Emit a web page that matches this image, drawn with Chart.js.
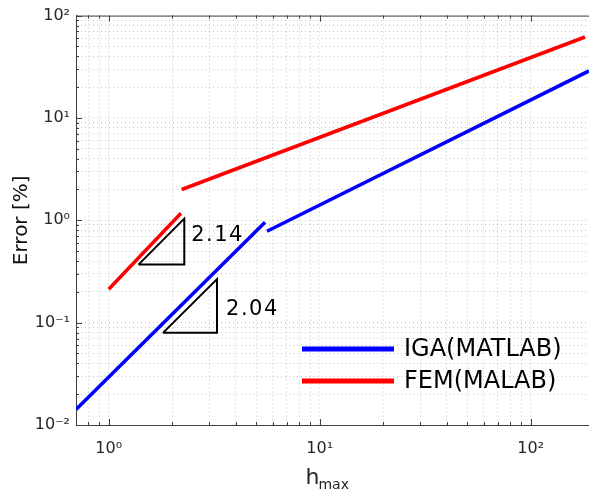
<!DOCTYPE html>
<html>
<head>
<meta charset="utf-8">
<script src="https://cdn.jsdelivr.net/npm/chart.js@4.4.0/dist/chart.umd.min.js"></script>
<style>
    html, body { margin: 0; padding: 0; background: #fff; }
    #wrap { position: relative; width: 589px; height: 492px; }
</style>
</head>
<body>
<div id="wrap"><canvas id="errorChart"></canvas></div>
<script>
// IGA (MATLAB) - two straight pieces on log-log
const igaH1 = [0.70, 5.51];
const igaErr1 = [0.0142, 0.956];
const igaH2 = [5.63, 189];
const igaErr2 = [0.781, 28.8];

// FEM (MALAB)
const femH1 = [1.0, 2.20];
const femErr1 = [0.212, 1.17];
const femH2 = [2.22, 181];
const femErr2 = [2.00, 61.8];

// slope triangles (closed paths)
const tri1H = [1.384, 2.282, 2.282, 1.384];
const tri1Err = [0.369, 0.369, 1.039, 0.369];
const tri2H = [1.808, 3.262, 3.262, 1.808];
const tri2Err = [0.0795, 0.0795, 0.2666, 0.0795];

const slopeLabels = ['2.14', '2.04'];
const slopeLabelH = [2.46, 3.60];
const slopeLabelErr = [0.714, 0.133];

const legendLabels = ['IGA(MATLAB)', 'FEM(MALAB)'];
const legendColors = ['#0000ff', '#ff0000'];

const xMin = 0.70, xMax = 189;
const yMin = 0.01, yMax = 100;

const FONT = "'DejaVu Sans', Verdana, sans-serif";

function toPoints(xs, ys) {
    return xs.map((x, i) => ({ x: x, y: ys[i] }));
}

function isPow10(v) {
    const l = Math.log10(v);
    return Math.abs(l - Math.round(l)) < 1e-9;
}

const supMap = { '-': '\u207B', '0': '\u2070', '1': '\u00B9', '2': '\u00B2', '3': '\u00B3' };
function powLabel(v) {
    const e = String(Math.round(Math.log10(v)));
    return '10' + e.split('').map(c => supMap[c] || c).join('');
}

// MATLAB style minor ticks: 1..9 x 10^k inside the range
function decadeTicks(min, max) {
    const out = [];
    for (let e = Math.floor(Math.log10(min)); e <= Math.ceil(Math.log10(max)); e++) {
        for (let d = 1; d <= 9; d++) {
            const v = parseFloat((d * Math.pow(10, e)).toPrecision(6));
            if (v >= min - 1e-12 && v <= max + 1e-12) out.push({ value: v, major: d === 1 });
        }
    }
    return out;
}

// inner tick marks, top border, slope labels, legend and x title
const decorPlugin = {
    id: 'decor',
    afterDatasetsDraw(chart) {
        const ctx = chart.ctx;
        const area = chart.chartArea;
        const xs = chart.scales.x;
        const ys = chart.scales.y;

        ctx.save();
        ctx.strokeStyle = '#404040';
        ctx.lineWidth = 1;
        ctx.beginPath();
        ctx.moveTo(area.left, area.top + 0.5);
        ctx.lineTo(area.right, area.top + 0.5);
        xs.ticks.forEach(t => {
            const px = Math.round(xs.getPixelForValue(t.value)) + 0.5;
            const len = isPow10(t.value) ? 6 : 3;
            ctx.moveTo(px, area.bottom);
            ctx.lineTo(px, area.bottom - len);
            ctx.moveTo(px, area.top);
            ctx.lineTo(px, area.top + len);
        });
        ys.ticks.forEach(t => {
            const py = Math.round(ys.getPixelForValue(t.value)) + 0.5;
            const len = isPow10(t.value) ? 6 : 3;
            ctx.moveTo(area.left, py);
            ctx.lineTo(area.left + len, py);
        });
        ctx.stroke();

        // slope values
        ctx.fillStyle = '#000';
        ctx.font = '21px ' + FONT;
        ctx.textBaseline = 'middle';
        ctx.textAlign = 'left';
        if ('letterSpacing' in ctx) ctx.letterSpacing = '1.5px';
        slopeLabels.forEach((s, i) => {
            ctx.fillText(s, xs.getPixelForValue(slopeLabelH[i]), ys.getPixelForValue(slopeLabelErr[i]));
        });
        if ('letterSpacing' in ctx) ctx.letterSpacing = '0px';

        // legend in the lower right of the axes
        ctx.font = '24px ' + FONT;
        legendLabels.forEach((lab, i) => {
            const y = area.bottom - 76 + i * 32;
            ctx.strokeStyle = legendColors[i];
            ctx.lineWidth = 5;
            ctx.beginPath();
            ctx.moveTo(area.right - 287, y);
            ctx.lineTo(area.right - 195, y);
            ctx.stroke();
            ctx.fillStyle = '#000';
            ctx.fillText(lab, area.right - 185, y + 1);
        });

        // x title with subscript
        const cx = (area.left + area.right) / 2 - 27;
        ctx.fillStyle = '#262626';
        ctx.textBaseline = 'alphabetic';
        ctx.font = '22px ' + FONT;
        ctx.fillText('h', cx, 484);
        const hw = ctx.measureText('h').width;
        ctx.font = '14px ' + FONT;
        ctx.fillText('max', cx + hw - 1, 489);
        ctx.restore();
    }
};

const lineStyle = { showLine: true, pointRadius: 0, borderWidth: 3.5, tension: 0, fill: false };

new Chart(document.getElementById('errorChart'), {
    type: 'scatter',
    data: {
        datasets: [
            { ...lineStyle, data: toPoints(igaH1, igaErr1), borderColor: '#0000ff' },
            { ...lineStyle, data: toPoints(igaH2, igaErr2), borderColor: '#0000ff' },
            { ...lineStyle, data: toPoints(femH1, femErr1), borderColor: '#ff0000' },
            { ...lineStyle, data: toPoints(femH2, femErr2), borderColor: '#ff0000' },
            { ...lineStyle, data: toPoints(tri1H, tri1Err), borderColor: '#000', borderWidth: 2 },
            { ...lineStyle, data: toPoints(tri2H, tri2Err), borderColor: '#000', borderWidth: 2 }
        ]
    },
    options: {
        responsive: true,
        maintainAspectRatio: false,
        animation: false,
        layout: { padding: { top: 14, right: 0, left: 0, bottom: 0 } },
        plugins: {
            legend: { display: false },
            tooltip: { enabled: false }
        },
        scales: {
            x: {
                type: 'logarithmic',
                min: xMin,
                max: xMax,
                afterBuildTicks: (scale) => { scale.ticks = decadeTicks(xMin, xMax); },
                afterFit: (scale) => { scale.height = 67; },
                ticks: {
                    autoSkip: false,
                    maxRotation: 0,
                    padding: 14,
                    color: '#262626',
                    font: { family: FONT, size: 16 },
                    callback: (value) => isPow10(value) ? powLabel(value) : ''
                },
                grid: { color: 'rgba(0,0,0,0.22)', drawTicks: false, lineWidth: 1 },
                border: { display: true, color: '#404040', width: 1, dash: [1, 3] }
            },
            y: {
                type: 'logarithmic',
                min: yMin,
                max: yMax,
                afterBuildTicks: (scale) => { scale.ticks = decadeTicks(yMin, yMax); },
                afterFit: (scale) => { scale.width = 76; },
                ticks: {
                    autoSkip: false,
                    padding: 6,
                    color: '#262626',
                    font: { family: FONT, size: 16 },
                    callback: (value) => isPow10(value) ? powLabel(value) : ''
                },
                title: {
                    display: true,
                    text: 'Error [%]',
                    color: '#111',
                    font: { family: FONT, size: 20 },
                    padding: { top: 10, bottom: 0 }
                },
                grid: { color: 'rgba(0,0,0,0.22)', drawTicks: false, lineWidth: 1 },
                border: { display: true, color: '#404040', width: 1, dash: [1, 3] }
            }
        }
    },
    plugins: [decorPlugin]
});
</script>
</body>
</html>
